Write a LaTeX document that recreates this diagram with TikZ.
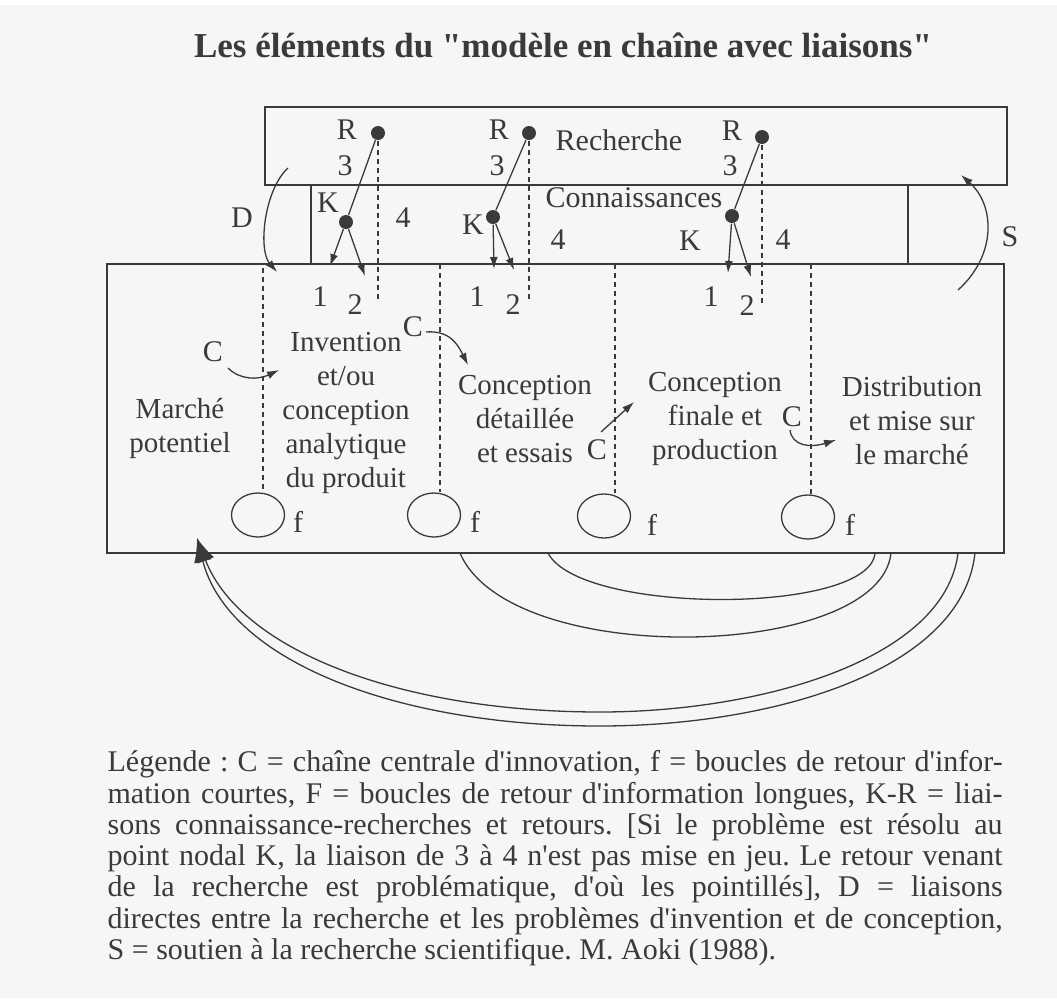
\documentclass[tikz,border=0pt]{standalone}
\usepackage{fontspec}
\setmainfont{Liberation Serif}[Ligatures=TeXOff]
\usetikzlibrary{arrows.meta,shapes.geometric}
\definecolor{fond}{HTML}{F6F6F6}
\definecolor{encre}{HTML}{3A3A3A}
\frenchspacing

\begin{document}
\begin{tikzpicture}[
  x=0.5pt, y=-0.5pt,
  line width=0.65pt, color=encre,
  lbl/.style={inner sep=0pt, font=\fontsize{15}{17}\selectfont},
  etape/.style={align=center, inner sep=0pt, font=\fontsize{14.5}{17}\selectfont},
  point/.style={circle, fill=encre, inner sep=0pt, minimum size=7pt},
  boucle/.style={ellipse, draw, inner sep=0pt, minimum width=26.5pt, minimum height=22pt},
  pointille/.style={dash pattern=on 2.5pt off 2pt},
  fleche/.style={-{Latex[length=6pt,width=4pt]}},
  grosfleche/.style={-{Latex[length=12pt,width=9pt]}} % <-- retour F
]
\fill[fond] (0,0) rectangle (1057,998);
\fill[white] (0,0) rectangle (1057,5);
\useasboundingbox (0,0) rectangle (1057,998);

\node[font=\bfseries\fontsize{17.5}{20}\selectfont] (titre) at (563,45)
  {Les éléments du "modèle en chaîne avec liaisons"};

% cadres
\draw (265,107) rectangle (1007,185);
\draw (107,264) rectangle (1004,553);
\draw (311,185) -- (311,264);
\draw (908,185) -- (908,264);
\node[lbl] (rech) at (619,140) {Recherche};
\node[lbl] (conn) at (634,198) {Connaissances};

% liaisons K-R
\node[point] (R1) at (378,133) {};
\node[point] (R2) at (529,133) {};
\node[point] (R3) at (762,137) {};
\node[point] (K1) at (346,222) {};
\node[point] (K2) at (493,217) {};
\node[point] (K3) at (732,216) {};
\node[lbl] (r1) at (347,130) {R};
\node[lbl] (r2) at (499,130) {R};
\node[lbl] (r3) at (732,131) {R};
\node[lbl] (t1) at (345,166) {3};
\node[lbl] (t2) at (497,166) {3};
\node[lbl] (t3) at (730,166) {3};
\node[lbl] (k1) at (328,203) {K};
\node[lbl] (k2) at (473,225) {K};
\node[lbl] (k3) at (690,241) {K};
\node[lbl] (q1) at (403,218) {4};
\node[lbl] (q2) at (558,240) {4};
\node[lbl] (q3) at (783,240) {4};
\node[lbl] (u1) at (320,297) {1};
\node[lbl] (u2) at (477,297) {1};
\node[lbl] (u3) at (711,297) {1};
\node[lbl] (d1) at (355,305) {2};
\node[lbl] (d2) at (513,305) {2};
\node[lbl] (d3) at (747,306) {2};
\coordinate (K1a) at (330,266);
\coordinate (K1b) at (365,276);
\coordinate (K2a) at (494,269);
\coordinate (K2b) at (514,270);
\coordinate (K3a) at (728,273);
\coordinate (K3b) at (751,277);
\coordinate (R1b) at (378,302);
\coordinate (R2b) at (529,302);
\coordinate (R3b) at (762,304);
\draw (R1) -- (K1);
\draw (R2) -- (K2);
\draw (R3) -- (K3);
\draw[fleche] (K1) -- (K1a);
\draw[fleche] (K1) -- (K1b);
\draw[fleche] (K2) -- (K2a);
\draw[fleche] (K2) -- (K2b);
\draw[fleche] (K3) -- (K3a);
\draw[fleche] (K3) -- (K3b);
\draw[pointille] (R1) -- (R1b);
\draw[pointille] (R2) -- (R2b);
\draw[pointille] (R3) -- (R3b);

% D et S
\node[lbl] (D) at (242,218) {D};
\node[lbl] (S) at (1010,237) {S};
\coordinate (D0) at (288,168);
\coordinate (D1) at (277,272);
\coordinate (S0) at (958,290);
\coordinate (S1) at (961,175);
\draw[fleche] (D0) .. controls (264,190) and (258,250) .. (D1);
\draw[fleche] (S0) .. controls (997,255) and (995,205) .. (S1);

% etapes de la chaine
\node[etape] (marche) at (180,428) {Marché\\potentiel};
\node[etape] (invention) at (346,413) {Invention\\et/ou\\conception\\analytique\\du produit};
\node[etape] (detail) at (525,419) {Conception\\détaillée\\et essais};
\node[etape] (finale) at (715,419) {Conception\\finale et\\production};
\node[etape] (distrib) at (912,421) {Distribution\\et mise sur\\le marché};

% boucles f
\node[boucle] (f1) at (258,515) {};
\node[boucle] (f2) at (434,515) {};
\node[boucle] (f3) at (604,516) {};
\node[boucle] (f4) at (808,517) {};
\node[lbl] (lf1) at (298,522) {f};
\node[lbl] (lf2) at (475,522) {f};
\node[lbl] (lf3) at (652,525) {f};
\node[lbl] (lf4) at (850,525) {f};
\coordinate (sep1) at (263,268);
\coordinate (sep2) at (440,264);
\coordinate (sep3) at (615,264);
\coordinate (sep4) at (811,264);
\draw[pointille] (sep1) -- (sep1 |- f1.north);
\draw[pointille] (sep2) -- (sep2 |- f2.north);
\draw[pointille] (sep3) -- (sep3 |- f3.north);
\draw[pointille] (sep4) -- (sep4 |- f4.north);

% chaine centrale C
\node[lbl] (c1) at (213,352) {C};
\node[lbl] (c2) at (413,327) {C};
\node[lbl] (c3) at (597,450) {C};
\node[lbl] (c4) at (792,417) {C};
\coordinate (c1a) at (228,368);
\coordinate (c1b) at (279,370);
\coordinate (c2a) at (426,332);
\coordinate (c2b) at (468,365);
\coordinate (c3a) at (601,432);
\coordinate (c3b) at (634,402);
\coordinate (c4a) at (790,430);
\coordinate (c4b) at (836,440);
\draw[fleche] (c1a) .. controls (240,380) and (258,380) .. (c1b);
\draw[fleche] (c2a) .. controls (450,330) and (458,345) .. (c2b);
\draw[fleche] (c3a) -- (c3b);
\draw[fleche] (c4a) .. controls (792,446) and (810,448) .. (c4b);

% boucles de retour F
\coordinate (F1) at (460,553);
\coordinate (F2) at (548,553);
\coordinate (F3) at (875,553);
\coordinate (F4) at (891,553);
\coordinate (F5) at (958,553);
\coordinate (F6) at (975,553);
\coordinate (Fbout) at (197,538);
\draw (F2) .. controls (580,615) and (870,615) .. (F3);
\draw (F1) .. controls (510,670) and (880,660) .. (F4);
\draw[grosfleche] (F5) .. controls (945,660) and (760,712) .. (600,712)
  .. controls (400,712) and (240,650) .. (Fbout);
\draw[grosfleche] (F6) .. controls (962,672) and (770,726) .. (600,726)
  .. controls (395,726) and (228,660) .. (Fbout);

% legende
\node[anchor=north west, inner sep=0pt, align=left,
  font=\fontsize{15}{15.65}\selectfont] (legende) at (107,750) {%
\makebox[447.5pt][s]{Légende : C = chaîne centrale d'innovation, f = boucles de retour d'infor-}\\
\makebox[447.5pt][s]{mation courtes, F = boucles de retour d'information longues, K-R = liai-}\\
\makebox[447.5pt][s]{sons connaissance-recherches et retours. [Si le problème est résolu au}\\
\makebox[447.5pt][s]{point nodal K, la liaison de 3 à 4 n'est pas mise en jeu. Le retour venant}\\
\makebox[447.5pt][s]{de la recherche est problématique, d'où les pointillés], D = liaisons}\\
\makebox[447.5pt][s]{directes entre la recherche et les problèmes d'invention et de conception,}\\
S = soutien à la recherche scientifique. M. Aoki (1988).};
\end{tikzpicture}
\end{document}
